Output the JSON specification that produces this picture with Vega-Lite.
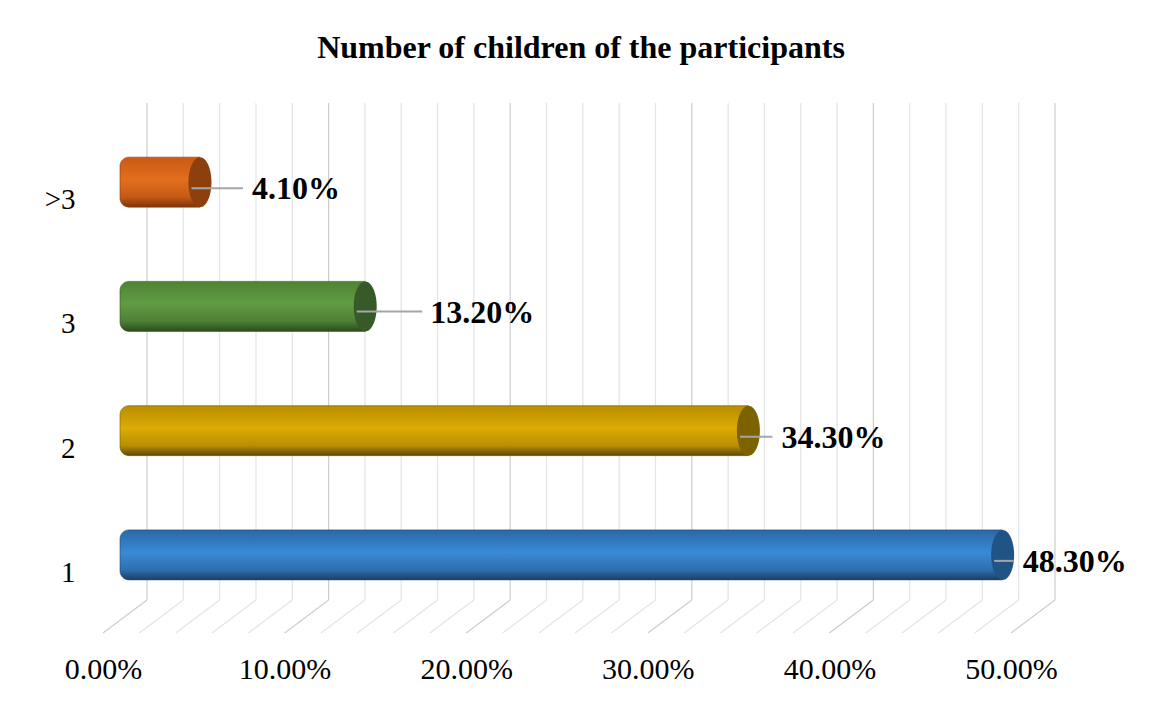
{
  "$schema": "https://vega.github.io/schema/vega-lite/v6.json",
  "width": 908,
  "height": 497,
  "autosize": {"type": "none"},
  "padding": {"left": 147, "top": 103, "right": 97, "bottom": 101},
  "background": "white",
  "config": {"view": {"stroke": null}, "font": "Liberation Serif"},
  "title": {
    "text": "Number of children of the participants",
    "font": "Liberation Serif",
    "fontSize": 32,
    "fontWeight": "bold",
    "color": "#000000",
    "anchor": "middle",
    "baseline": "alphabetic",
    "offset": 12,
    "dx": -20
  },
  "datasets": {
    "shares": [
      {"children": "1", "share": 0.483},
      {"children": "2", "share": 0.343},
      {"children": "3", "share": 0.132},
      {"children": ">3", "share": 0.041}
    ],
    "grid": [
      {"tick": 0.0}, {"tick": 0.02}, {"tick": 0.04}, {"tick": 0.06}, {"tick": 0.08},
      {"tick": 0.1}, {"tick": 0.12}, {"tick": 0.14}, {"tick": 0.16}, {"tick": 0.18},
      {"tick": 0.2}, {"tick": 0.22}, {"tick": 0.24}, {"tick": 0.26}, {"tick": 0.28},
      {"tick": 0.3}, {"tick": 0.32}, {"tick": 0.34}, {"tick": 0.36}, {"tick": 0.38},
      {"tick": 0.4}, {"tick": 0.42}, {"tick": 0.44}, {"tick": 0.46}, {"tick": 0.48},
      {"tick": 0.5}
    ]
  },
  "layer": [
    {
      "data": {"name": "grid"},
      "mark": {"type": "rule", "strokeWidth": 1.2},
      "encoding": {
        "x": {
          "field": "tick", "type": "quantitative",
          "scale": {"domain": [0, 0.5], "nice": false, "zero": true},
          "axis": {
            "values": [0, 0.1, 0.2, 0.3, 0.4, 0.5],
            "format": ".2%",
            "title": null,
            "domain": false,
            "ticks": false,
            "grid": false,
            "labelFlush": false,
            "labelOverlap": false,
            "labelFont": "Liberation Serif",
            "labelFontSize": 30,
            "labelColor": "#000000",
            "labelPadding": 54,
            "labelOffset": -44
          }
        },
        "color": {
          "condition": {"test": "abs(datum.tick * 10 - round(datum.tick * 10)) < 0.000001", "value": "#cdcdcd"},
          "value": "#e4e4e4"
        }
      }
    },
    {
      "data": {"name": "grid"},
      "mark": {"type": "rule", "strokeWidth": 1.2, "x2Offset": -44, "y2Offset": 33},
      "encoding": {
        "x": {"field": "tick", "type": "quantitative"},
        "x2": {"field": "tick"},
        "y": {"value": "height"},
        "y2": {"value": "height"},
        "color": {
          "condition": {"test": "abs(datum.tick * 10 - round(datum.tick * 10)) < 0.000001", "value": "#cdcdcd"},
          "value": "#e4e4e4"
        }
      }
    },
    {
      "data": {"name": "shares"},
      "layer": [
        {
          "transform": [{"filter": "datum.children == '1'"}],
          "mark": {
            "type": "bar", "height": 50, "xOffset": -21.5, "x2Offset": -27,
            "cornerRadiusTopLeft": 9, "cornerRadiusBottomLeft": 9,
            "stroke": "#1f4a75", "strokeWidth": 0.6,
            "color": {"gradient": "linear", "x1": 0, "y1": 0, "x2": 0, "y2": 1,
              "stops": [{"offset": 0, "color": "#2a68a6"}, {"offset": 0.45, "color": "#3a8ad6"}, {"offset": 0.8, "color": "#2d6fb0"}, {"offset": 1, "color": "#1b3f66"}]}
          },
          "encoding": {
            "x": {"field": "share", "type": "quantitative"},
            "x2": {"datum": 0},
            "y": {
              "field": "children", "type": "nominal",
              "scale": {"domain": [">3", "3", "2", "1"], "range": [17, 514], "paddingInner": 0.6, "paddingOuter": 0.3},
              "axis": {
                "title": null,
                "domain": false,
                "ticks": false,
                "grid": false,
                "labelFont": "Liberation Serif",
                "labelFontSize": 29,
                "labelColor": "#000000",
                "labelPadding": 72,
                "labelOffset": 18
              }
            }
          }
        },
        {
          "transform": [{"filter": "datum.children == '2'"}],
          "mark": {
            "type": "bar", "height": 50, "xOffset": -21.5, "x2Offset": -27,
            "cornerRadiusTopLeft": 9, "cornerRadiusBottomLeft": 9,
            "stroke": "#7a5e00", "strokeWidth": 0.6,
            "color": {"gradient": "linear", "x1": 0, "y1": 0, "x2": 0, "y2": 1,
              "stops": [{"offset": 0, "color": "#b88c00"}, {"offset": 0.45, "color": "#dcab04"}, {"offset": 0.8, "color": "#b98f00"}, {"offset": 1, "color": "#5e4700"}]}
          },
          "encoding": {
            "x": {"field": "share", "type": "quantitative"},
            "x2": {"datum": 0},
            "y": {"field": "children", "type": "nominal"}
          }
        },
        {
          "transform": [{"filter": "datum.children == '3'"}],
          "mark": {
            "type": "bar", "height": 50, "xOffset": -21.5, "x2Offset": -27,
            "cornerRadiusTopLeft": 9, "cornerRadiusBottomLeft": 9,
            "stroke": "#36592a", "strokeWidth": 0.6,
            "color": {"gradient": "linear", "x1": 0, "y1": 0, "x2": 0, "y2": 1,
              "stops": [{"offset": 0, "color": "#4f8234"}, {"offset": 0.45, "color": "#619c43"}, {"offset": 0.8, "color": "#4d7f35"}, {"offset": 1, "color": "#2a4a1f"}]}
          },
          "encoding": {
            "x": {"field": "share", "type": "quantitative"},
            "x2": {"datum": 0},
            "y": {"field": "children", "type": "nominal"}
          }
        },
        {
          "transform": [{"filter": "datum.children == '>3'"}],
          "mark": {
            "type": "bar", "height": 50, "xOffset": -21.5, "x2Offset": -27,
            "cornerRadiusTopLeft": 9, "cornerRadiusBottomLeft": 9,
            "stroke": "#8a3c0c", "strokeWidth": 0.6,
            "color": {"gradient": "linear", "x1": 0, "y1": 0, "x2": 0, "y2": 1,
              "stops": [{"offset": 0, "color": "#c85a14"}, {"offset": 0.45, "color": "#e36e1d"}, {"offset": 0.8, "color": "#c45a15"}, {"offset": 1, "color": "#7c350a"}]}
          },
          "encoding": {
            "x": {"field": "share", "type": "quantitative"},
            "x2": {"datum": 0},
            "y": {"field": "children", "type": "nominal"}
          }
        },
        {
          "mark": {
            "type": "point", "filled": true, "opacity": 1, "size": 2500, "xOffset": -21.5,
            "shape": "M -0.46 0 A 0.46 1 0 1 0 0.46 0 A 0.46 1 0 1 0 -0.46 0 Z"
          },
          "encoding": {
            "x": {"field": "share", "type": "quantitative"},
            "y": {"field": "children", "type": "nominal"},
            "color": {
              "field": "children", "type": "nominal", "legend": null,
              "scale": {"domain": ["1", "2", "3", ">3"], "range": ["#215486", "#7d6300", "#375a28", "#8d3f0d"]}
            }
          }
        },
        {
          "transform": [{"filter": "datum.children == '1'"}],
          "mark": {"type": "rule", "color": "#a6a6a6", "strokeWidth": 2, "xOffset": -30, "x2Offset": -10.5, "yOffset": 6},
          "encoding": {
            "x": {"field": "share", "type": "quantitative"},
            "x2": {"field": "share"},
            "y": {"field": "children", "type": "nominal"}
          }
        },
        {
          "transform": [{"filter": "datum.children == '2'"}],
          "mark": {"type": "rule", "color": "#a6a6a6", "strokeWidth": 2, "xOffset": -30, "x2Offset": 2.5, "yOffset": 6},
          "encoding": {
            "x": {"field": "share", "type": "quantitative"},
            "x2": {"field": "share"},
            "y": {"field": "children", "type": "nominal"}
          }
        },
        {
          "transform": [{"filter": "datum.children == '3'"}],
          "mark": {"type": "rule", "color": "#a6a6a6", "strokeWidth": 2, "xOffset": -30, "x2Offset": 35.5, "yOffset": 5},
          "encoding": {
            "x": {"field": "share", "type": "quantitative"},
            "x2": {"field": "share"},
            "y": {"field": "children", "type": "nominal"}
          }
        },
        {
          "transform": [{"filter": "datum.children == '>3'"}],
          "mark": {"type": "rule", "color": "#a6a6a6", "strokeWidth": 2, "xOffset": -30, "x2Offset": 21.5, "yOffset": 6},
          "encoding": {
            "x": {"field": "share", "type": "quantitative"},
            "x2": {"field": "share"},
            "y": {"field": "children", "type": "nominal"}
          }
        },
        {
          "transform": [{"filter": "datum.children == '1'"}],
          "mark": {"type": "text", "align": "left", "baseline": "alphabetic", "dx": -1.5, "dy": 17, "fontSize": 32, "fontWeight": "bold", "font": "Liberation Serif", "color": "#000000"},
          "encoding": {
            "x": {"field": "share", "type": "quantitative"},
            "y": {"field": "children", "type": "nominal"},
            "text": {"field": "share", "type": "quantitative", "format": ".2%"}
          }
        },
        {
          "transform": [{"filter": "datum.children == '2'"}],
          "mark": {"type": "text", "align": "left", "baseline": "alphabetic", "dx": 11.5, "dy": 17, "fontSize": 32, "fontWeight": "bold", "font": "Liberation Serif", "color": "#000000"},
          "encoding": {
            "x": {"field": "share", "type": "quantitative"},
            "y": {"field": "children", "type": "nominal"},
            "text": {"field": "share", "type": "quantitative", "format": ".2%"}
          }
        },
        {
          "transform": [{"filter": "datum.children == '3'"}],
          "mark": {"type": "text", "align": "left", "baseline": "alphabetic", "dx": 43.5, "dy": 17, "fontSize": 32, "fontWeight": "bold", "font": "Liberation Serif", "color": "#000000"},
          "encoding": {
            "x": {"field": "share", "type": "quantitative"},
            "y": {"field": "children", "type": "nominal"},
            "text": {"field": "share", "type": "quantitative", "format": ".2%"}
          }
        },
        {
          "transform": [{"filter": "datum.children == '>3'"}],
          "mark": {"type": "text", "align": "left", "baseline": "alphabetic", "dx": 30.5, "dy": 17, "fontSize": 32, "fontWeight": "bold", "font": "Liberation Serif", "color": "#000000"},
          "encoding": {
            "x": {"field": "share", "type": "quantitative"},
            "y": {"field": "children", "type": "nominal"},
            "text": {"field": "share", "type": "quantitative", "format": ".2%"}
          }
        }
      ]
    }
  ]
}
